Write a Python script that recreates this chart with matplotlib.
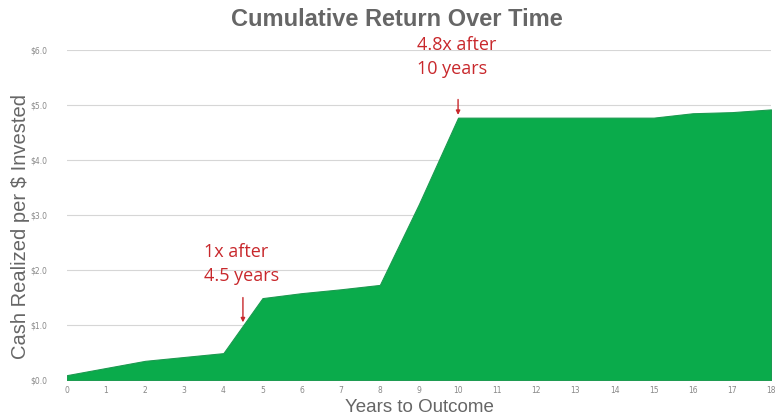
import numpy as np
import matplotlib.pyplot as plt

years = [0, 1, 2, 3, 4, 5, 6, 7, 8, 9, 10, 11, 12, 13, 14, 15, 16, 17, 18]
cash = [0.09, 0.22, 0.35, 0.42, 0.49, 1.49, 1.58, 1.65, 1.73, 3.2, 4.77,
        4.77, 4.77, 4.77, 4.77, 4.77, 4.85, 4.87, 4.92]
ytick_vals = [0, 1, 2, 3, 4, 5, 6]
ytick_labels = ['$0.0', '$1.0', '$2.0', '$3.0', '$4.0', '$5.0', '$6.0']

green = '#0aab4b'
red = '#c8282c'
grey = '#666666'

fig = plt.figure(figsize=(7.78, 4.2), dpi=100)
ax = fig.add_axes([0.086, 0.095, 0.905, 0.786])

ax.fill_between(years, cash, 0, color=green, linewidth=0.8, edgecolor='#1c9a50')
ax.set_xlim(0, 18)
ax.set_ylim(0, 6)

ax.set_yticks(ytick_vals)
ax.set_yticklabels(ytick_labels)
ax.set_xticks(years)
ax.tick_params(axis='both', length=0, labelsize=5.5, colors='#888888')
ax.tick_params(axis='y', pad=14)
ax.tick_params(axis='x', pad=4)
ax.grid(axis='y', color='#d6d6d6', linewidth=0.8)
ax.set_axisbelow(True)
for s in ax.spines.values():
    s.set_visible(False)

ax.set_xlabel('Years to Outcome', fontsize=13.5, color=grey,
              family='Liberation Sans', labelpad=3)
ax.set_ylabel('Cash Realized per $ Invested', fontsize=14.5, color=grey,
              family='Liberation Sans')
ax.yaxis.set_label_coords(-0.052, 0.465)
fig.suptitle('Cumulative Return Over Time', x=0.51, y=0.982, fontsize=17,
             fontweight='bold', color=grey, family='Liberation Sans')

# annotation text and vertical arrows
ax.text(3.5, 2.5, '1x after\n4.5 years', fontsize=13, color=red,
        family='Open Sans', ha='left', va='top', linespacing=1.45)
ax.annotate('', xy=(4.5, 1.05), xytext=(4.5, 1.5),
            arrowprops=dict(arrowstyle='-|>', color=red, lw=1,
                            mutation_scale=6, shrinkA=0, shrinkB=0))
ax.text(8.95, 6.26, '4.8x after\n10 years', fontsize=13, color=red,
        family='Open Sans', ha='left', va='top', linespacing=1.45,
        clip_on=False)
ax.annotate('', xy=(10, 4.82), xytext=(10, 5.1),
            arrowprops=dict(arrowstyle='-|>', color=red, lw=1,
                            mutation_scale=6, shrinkA=0, shrinkB=0))

fig.savefig('out.png', dpi=100)
